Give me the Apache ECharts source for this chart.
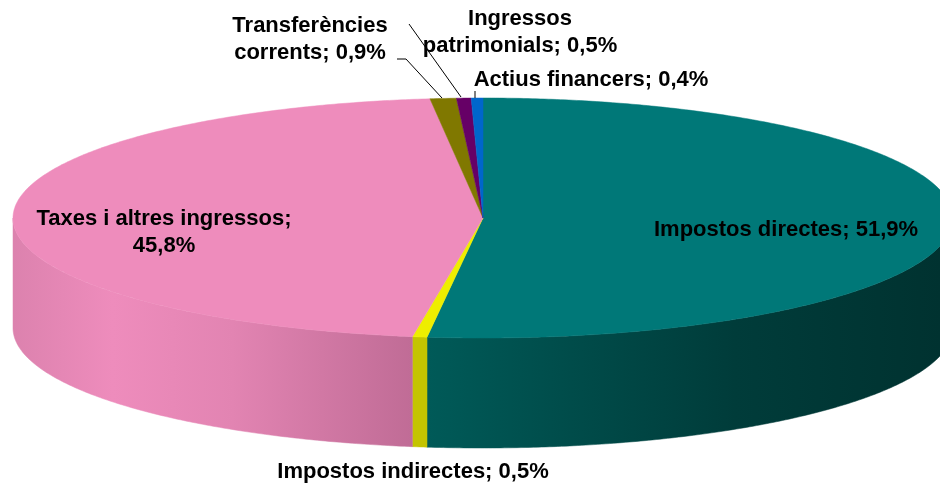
<!DOCTYPE html>
<html>
<head>
<meta charset="utf-8">
<style>
  html, body { margin: 0; padding: 0; background: #fff; overflow: hidden; }
  #chart { width: 940px; height: 489px; }
</style>
</head>
<body>
<div id="chart"></div>
<script src="https://cdn.jsdelivr.net/npm/echarts@6/dist/echarts.min.js"></script>
<script>
const names = ['Impostos directes', 'Impostos indirectes', 'Taxes i altres ingressos', 'Transferències corrents', 'Ingressos patrimonials', 'Actius financers']
const values = [51.9, 0.5, 45.8, 0.9, 0.5, 0.4]
const topColors = ['#007878', '#eeee00', '#ee8cbc', '#807800', '#660066', '#0066cc']

// 3D disc geometry
const cx = 483
const cy = 218
const rx = 470
const ry = 120
const depth = 110

const total = values.reduce((a, b) => a + b, 0)

// side wall gradients, left to right in page space
const wallFills = [
  new echarts.graphic.LinearGradient(428, 0, 940, 0, [
    { offset: 0, color: '#005a58' },
    { offset: 0.6, color: '#003c3a' },
    { offset: 1, color: '#003230' }
  ], true),
  '#c4c400',
  new echarts.graphic.LinearGradient(13, 0, 412, 0, [
    { offset: 0, color: '#dc82ae' },
    { offset: 0.25, color: '#ee8cbc' },
    { offset: 0.55, color: '#e284b2' },
    { offset: 1, color: '#c06c96' }
  ], true),
  '#807800', '#660066', '#0066cc'
]

// point on the ellipse, angle in degrees clockwise from 12 o'clock
const rimPoint = (deg, dy) => {
  const a = deg * Math.PI / 180
  return [cx + rx * Math.sin(a), cy - ry * Math.cos(a) + (dy || 0)]
}

const arcPoints = (from, to, dy) => {
  const pts = []
  const steps = Math.max(2, Math.ceil((to - from) * 2))
  for (let i = 0; i <= steps; i++) {
    pts.push(rimPoint(from + (to - from) * i / steps, dy))
  }
  return pts
}

const sliceAngles = (index) => {
  let sum = 0
  for (let i = 0; i < index; i++) sum += values[i]
  return [sum / total * 360, (sum + values[index]) / total * 360]
}

// walls only show on the front half (90 to 270 degrees)
const renderWall = (params) => {
  const [start, end] = sliceAngles(params.dataIndex)
  const from = Math.max(start, 90)
  const to = Math.min(end, 270)
  if (from >= to) return { type: 'group', children: [] }
  const fill = wallFills[params.dataIndex]
  return {
    type: 'polygon',
    shape: { points: arcPoints(from, to, 0).concat(arcPoints(from, to, depth).reverse()) },
    style: { fill: fill, stroke: fill, lineWidth: 0.5 }
  }
}

const renderTop = (params) => {
  const [start, end] = sliceAngles(params.dataIndex)
  const color = topColors[params.dataIndex]
  return {
    type: 'polygon',
    shape: { points: [[cx, cy]].concat(arcPoints(start, end, 0)) },
    style: { fill: color, stroke: color, lineWidth: 0.5 }
  }
}

const labelStyle = {
  font: 'bold 22px "Liberation Sans", Arial, sans-serif',
  fill: '#000',
  align: 'center',
  verticalAlign: 'middle',
  lineHeight: 27
}

const makeLabel = (text, x, y) => ({
  type: 'text',
  x: x,
  y: y,
  z: 10,
  style: Object.assign({ text: text }, labelStyle)
})

const makeLeader = (points) => ({
  type: 'polyline',
  z: 9,
  shape: { points: points },
  style: { stroke: '#000', lineWidth: 1, fill: null }
})

const chart = echarts.init(document.getElementById('chart'), null, { renderer: 'canvas' })
chart.setOption({
  animation: false,
  backgroundColor: '#fff',
  series: [
    {
      type: 'custom',
      name: 'wall',
      coordinateSystem: 'none',
      silent: true,
      z: 1,
      data: values,
      renderItem: renderWall
    },
    {
      type: 'custom',
      name: 'top',
      coordinateSystem: 'none',
      silent: true,
      z: 2,
      data: values.map((v, i) => ({ name: names[i], value: v })),
      renderItem: renderTop
    }
  ],
  graphic: [
    makeLeader([[397, 59], [406, 59], [442, 98]]),
    makeLeader([[409, 24], [461, 97]]),
    makeLeader([[475, 91], [475, 98]]),
    makeLabel('Transferències\ncorrents; 0,9%', 310, 39),
    makeLabel('Ingressos\npatrimonials; 0,5%', 520, 32),
    makeLabel('Actius financers; 0,4%', 591, 80),
    makeLabel('Taxes i altres ingressos;\n45,8%', 164, 232),
    makeLabel('Impostos directes; 51,9%', 786, 230),
    makeLabel('Impostos indirectes; 0,5%', 413, 472)
  ]
})
</script>
</body>
</html>
